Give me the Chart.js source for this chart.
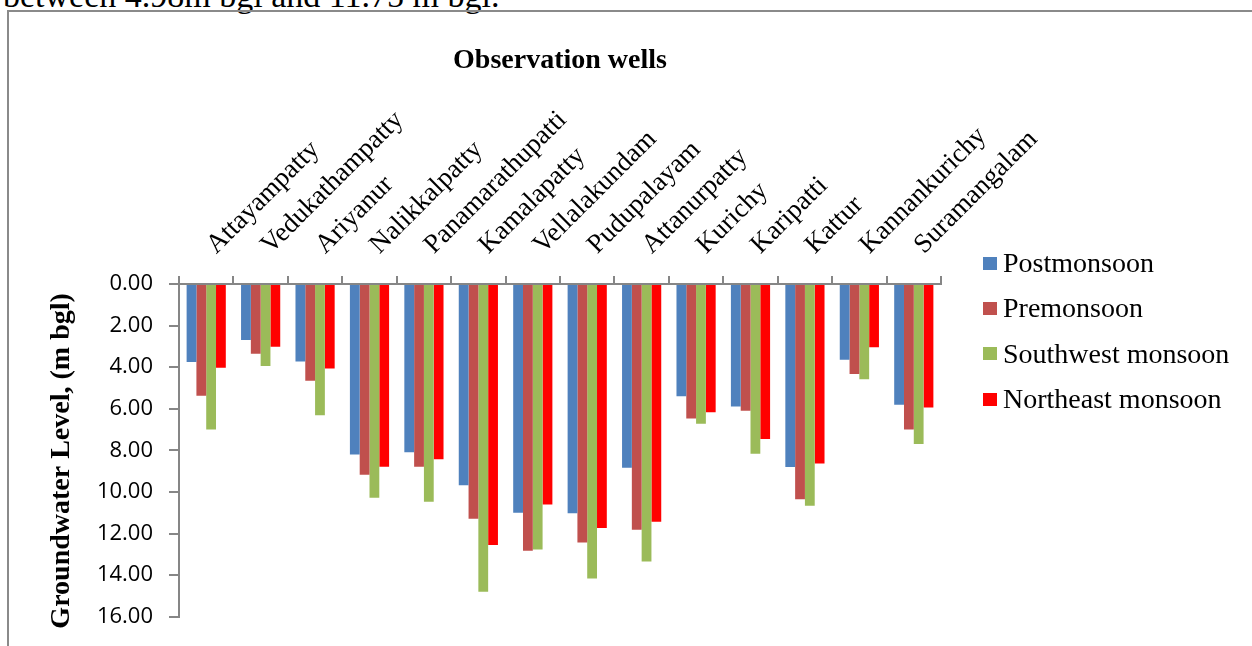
<!DOCTYPE html>
<html>
<head>
<meta charset="utf-8">
<script src="https://cdn.jsdelivr.net/npm/chart.js@4.4.1/dist/chart.umd.min.js"></script>
<style>
  html, body { margin: 0; padding: 0; background: #fff; width: 1252px; height: 646px; overflow: hidden; }
  body { position: relative; }
  #topline { position: absolute; left: 3px; top: -21px; font: 34px/34px "Liberation Serif", serif; white-space: nowrap; color: #000; }
  #frame { position: absolute; left: 7px; top: 10px; width: 1260px; height: 650px; border-left: 2px solid #8a8a8a; border-top: 2px solid #8a8a8a; }
  #priceChart { position: absolute; left: 0; top: 0; }
  .item { position: absolute; left: 983px; height: 30px; display: flex; align-items: center; white-space: nowrap; font: 28px/30px "Liberation Serif", serif; color: #000; }
  .box { width: 14px; height: 13px; margin-right: 6px; }
</style>
</head>
<body>
<div id="topline">between 4.98m bgl and 11.75 m bgl.</div>
<div id="frame"></div>
<canvas id="priceChart" width="1252" height="646"></canvas>
<div id="legend"></div>
<script>
const wells = ['Attayampatty', 'Vedukathampatty', 'Ariyanur', 'Nalikkalpatty', 'Panamarathupatti',
    'Kamalapatty', 'Vellalakundam', 'Pudupalayam', 'Attanurpatty', 'Kurichy', 'Karipatti',
    'Kattur', 'Kannankurichy', 'Suramangalam'];
const postmonsoon = [3.75, 2.69, 3.73, 8.20, 8.09, 9.67, 11.00, 11.02, 8.83, 5.40, 5.89, 8.80, 3.64, 5.80];
const premonsoon = [5.37, 3.35, 4.65, 9.17, 8.79, 11.29, 12.83, 12.43, 11.81, 6.47, 6.09, 10.35, 4.33, 6.99];
const southwest = [7.00, 3.94, 6.31, 10.28, 10.47, 14.80, 12.76, 14.16, 13.34, 6.72, 8.16, 10.66, 4.58, 7.69];
const northeast = [4.03, 3.02, 4.06, 8.79, 8.43, 12.55, 10.60, 11.73, 11.43, 6.16, 7.45, 8.63, 3.04, 5.94];
const yTickValues = [0, 2, 4, 6, 8, 10, 12, 14, 16];

window.onload = function () {
    const ctx = document.getElementById('priceChart').getContext('2d');
    const axisGray = '#868686';

    const chart = new Chart(ctx, {
        type: 'bar',
        data: {
            labels: wells,
            datasets: [
                { label: 'Postmonsoon', data: postmonsoon, backgroundColor: '#4F81BD' },
                { label: 'Premonsoon', data: premonsoon, backgroundColor: '#C0504D' },
                { label: 'Southwest monsoon', data: southwest, backgroundColor: '#9BBB59' },
                { label: 'Northeast monsoon', data: northeast, backgroundColor: '#FF0000' }
            ]
        },
        options: {
            responsive: false,
            animation: false,
            layout: { padding: { left: 45, top: 44, right: 311, bottom: 23 } },
            datasets: { bar: { categoryPercentage: 0.72, barPercentage: 1.0 } },
            plugins: {
                legend: { display: false },
                tooltip: { enabled: false }
            },
            scales: {
                x: {
                    position: 'top',
                    grid: { drawOnChartArea: false, drawTicks: true, tickLength: 8, color: axisGray, lineWidth: 2 },
                    border: { color: axisGray, width: 2 },
                    ticks: {
                        minRotation: 45, maxRotation: 45, autoSkip: false,
                        padding: 15, labelOffset: 28,
                        color: '#000', font: { family: 'Liberation Serif', size: 27 }
                    },
                    title: {
                        display: true, text: 'Observation wells', color: '#000',
                        padding: 0, font: { family: 'Liberation Serif', size: 28, weight: 'bold' }
                    },
                    afterFit: function (scale) { scale.height = 240; }
                },
                y: {
                    reverse: true,
                    min: 0,
                    max: 16,
                    afterBuildTicks: function (scale) {
                        scale.ticks = yTickValues.map(v => ({ value: v }));
                    },
                    grid: { drawOnChartArea: false, drawTicks: true, tickLength: 10, color: axisGray, lineWidth: 2 },
                    border: { color: axisGray, width: 2 },
                    ticks: {
                        padding: 16, color: '#000',
                        font: { family: 'Open Sans', size: 22 },
                        callback: v => Number(v).toFixed(2)
                    },
                    title: {
                        display: true, text: 'Groundwater Level, (m bgl)   ', color: '#000',
                        padding: 0, font: { family: 'Liberation Serif', size: 28, weight: 'bold' }
                    },
                    afterFit: function (scale) { scale.width = 134; }
                }
            }
        }
    });

    const legend = document.getElementById('legend');
    chart.data.datasets.forEach(function (ds, i) {
        const item = document.createElement('div');
        item.className = 'item';
        item.style.top = (248 + i * 45.4) + 'px';
        const box = document.createElement('span');
        box.className = 'box';
        box.style.background = ds.backgroundColor;
        item.appendChild(box);
        item.appendChild(document.createTextNode(ds.label));
        legend.appendChild(item);
    });
}
</script>
</body>
</html>
